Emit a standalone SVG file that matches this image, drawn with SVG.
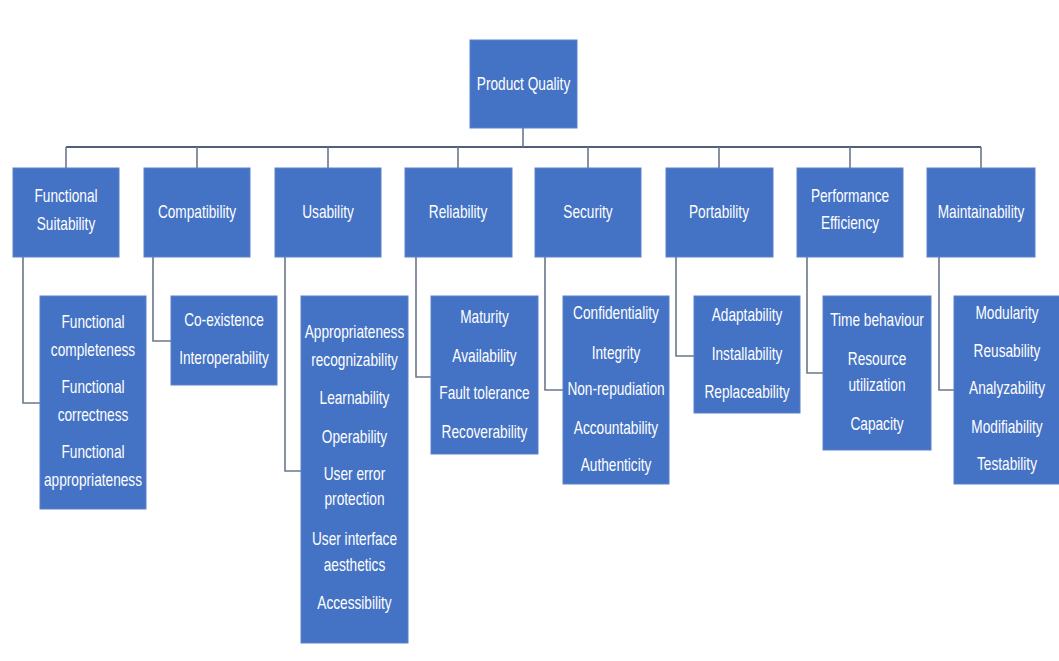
<svg xmlns="http://www.w3.org/2000/svg" width="1059" height="661" viewBox="0 0 1059 661">
<style>
.box{fill:#4472c4;stroke:#5a82cc;stroke-width:1}
.t{font-family:"Liberation Sans",Arial,sans-serif;font-size:18px;fill:#ffffff;text-anchor:middle}
.c{fill:none;stroke:#6b778c;stroke-width:1.6}
.bus{fill:none;stroke:#4f5f7d;stroke-width:2.2}
</style>
<rect width="1059" height="661" fill="#ffffff"/>
<g id="connectors">
<path class="bus" d="M66,147 H981"/>
<path class="c" d="M523,128 V147"/>
<path class="c" d="M66,147 V168 M197,147 V168 M328,147 V168 M458,147 V168 M588,147 V168 M719,147 V168 M850,147 V168 M981,147 V168"/>
<path class="c" d="M23,257 V403 H40"/>
<path class="c" d="M153,257 V341 H171"/>
<path class="c" d="M285,257 V471 H301"/>
<path class="c" d="M416,257 V377 H431"/>
<path class="c" d="M545,257 V390 H563"/>
<path class="c" d="M676,257 V356 H694"/>
<path class="c" d="M807,257 V373 H823"/>
<path class="c" d="M939,257 V390 H954"/>
</g>
<g id="product-quality">
<rect class="box" x="470" y="40" width="107" height="88"/>
<text class="t" transform="translate(523.5,90) scale(0.76,1)">Product Quality</text>
</g>
<g id="functional-suitability">
<rect class="box" x="13" y="168" width="106" height="89"/>
<text class="t" transform="translate(66,202) scale(0.76,1)">Functional</text>
<text class="t" transform="translate(66,230) scale(0.76,1)">Suitability</text>
</g>
<g id="compatibility">
<rect class="box" x="144" y="168" width="106" height="89"/>
<text class="t" transform="translate(197,218) scale(0.76,1)">Compatibility</text>
</g>
<g id="usability">
<rect class="box" x="275" y="168" width="106" height="89"/>
<text class="t" transform="translate(328,218) scale(0.76,1)">Usability</text>
</g>
<g id="reliability">
<rect class="box" x="405" y="168" width="107" height="89"/>
<text class="t" transform="translate(458,218) scale(0.76,1)">Reliability</text>
</g>
<g id="security">
<rect class="box" x="535" y="168" width="106" height="89"/>
<text class="t" transform="translate(588,218) scale(0.76,1)">Security</text>
</g>
<g id="portability">
<rect class="box" x="666" y="168" width="107" height="89"/>
<text class="t" transform="translate(719,218) scale(0.76,1)">Portability</text>
</g>
<g id="performance-efficiency">
<rect class="box" x="797" y="168" width="106" height="89"/>
<text class="t" transform="translate(850,202) scale(0.76,1)">Performance</text>
<text class="t" transform="translate(850,229) scale(0.76,1)">Efficiency</text>
</g>
<g id="maintainability">
<rect class="box" x="927" y="168" width="108" height="89"/>
<text class="t" transform="translate(981,218) scale(0.76,1)">Maintainability</text>
</g>
<g id="functional-suitability-items">
<rect class="box" x="40" y="296" width="106" height="213"/>
<text class="t" transform="translate(93,328) scale(0.76,1)">Functional</text>
<text class="t" transform="translate(93,356) scale(0.76,1)">completeness</text>
<text class="t" transform="translate(93,393) scale(0.76,1)">Functional</text>
<text class="t" transform="translate(93,421) scale(0.76,1)">correctness</text>
<text class="t" transform="translate(93,458) scale(0.76,1)">Functional</text>
<text class="t" transform="translate(93,486) scale(0.76,1)">appropriateness</text>
</g>
<g id="compatibility-items">
<rect class="box" x="171" y="296" width="106" height="89"/>
<text class="t" transform="translate(224,326) scale(0.76,1)">Co-existence</text>
<text class="t" transform="translate(224,364) scale(0.76,1)">Interoperability</text>
</g>
<g id="usability-items">
<rect class="box" x="301" y="296" width="107" height="347"/>
<text class="t" transform="translate(354.5,338) scale(0.76,1)">Appropriateness</text>
<text class="t" transform="translate(354.5,366) scale(0.76,1)">recognizability</text>
<text class="t" transform="translate(354.5,404) scale(0.76,1)">Learnability</text>
<text class="t" transform="translate(354.5,443) scale(0.76,1)">Operability</text>
<text class="t" transform="translate(354.5,480) scale(0.76,1)">User error</text>
<text class="t" transform="translate(354.5,505) scale(0.76,1)">protection</text>
<text class="t" transform="translate(354.5,545) scale(0.76,1)">User interface</text>
<text class="t" transform="translate(354.5,571) scale(0.76,1)">aesthetics</text>
<text class="t" transform="translate(354.5,609) scale(0.76,1)">Accessibility</text>
</g>
<g id="reliability-items">
<rect class="box" x="431" y="296" width="107" height="158"/>
<text class="t" transform="translate(484.5,323) scale(0.76,1)">Maturity</text>
<text class="t" transform="translate(484.5,362) scale(0.76,1)">Availability</text>
<text class="t" transform="translate(484.5,399) scale(0.76,1)">Fault tolerance</text>
<text class="t" transform="translate(484.5,438) scale(0.76,1)">Recoverability</text>
</g>
<g id="security-items">
<rect class="box" x="563" y="296" width="106" height="188"/>
<text class="t" transform="translate(616,319) scale(0.76,1)">Confidentiality</text>
<text class="t" transform="translate(616,359) scale(0.76,1)">Integrity</text>
<text class="t" transform="translate(616,395) scale(0.76,1)">Non-repudiation</text>
<text class="t" transform="translate(616,434) scale(0.76,1)">Accountability</text>
<text class="t" transform="translate(616,471) scale(0.76,1)">Authenticity</text>
</g>
<g id="portability-items">
<rect class="box" x="694" y="296" width="106" height="117"/>
<text class="t" transform="translate(747,321) scale(0.76,1)">Adaptability</text>
<text class="t" transform="translate(747,360) scale(0.76,1)">Installability</text>
<text class="t" transform="translate(747,398) scale(0.76,1)">Replaceability</text>
</g>
<g id="performance-efficiency-items">
<rect class="box" x="823" y="296" width="108" height="154"/>
<text class="t" transform="translate(877,326) scale(0.76,1)">Time behaviour</text>
<text class="t" transform="translate(877,365) scale(0.76,1)">Resource</text>
<text class="t" transform="translate(877,391) scale(0.76,1)">utilization</text>
<text class="t" transform="translate(877,430) scale(0.76,1)">Capacity</text>
</g>
<g id="maintainability-items">
<rect class="box" x="954" y="296" width="106" height="188"/>
<text class="t" transform="translate(1007,319) scale(0.76,1)">Modularity</text>
<text class="t" transform="translate(1007,357) scale(0.76,1)">Reusability</text>
<text class="t" transform="translate(1007,394) scale(0.76,1)">Analyzability</text>
<text class="t" transform="translate(1007,433) scale(0.76,1)">Modifiability</text>
<text class="t" transform="translate(1007,470) scale(0.76,1)">Testability</text>
</g>
</svg>
